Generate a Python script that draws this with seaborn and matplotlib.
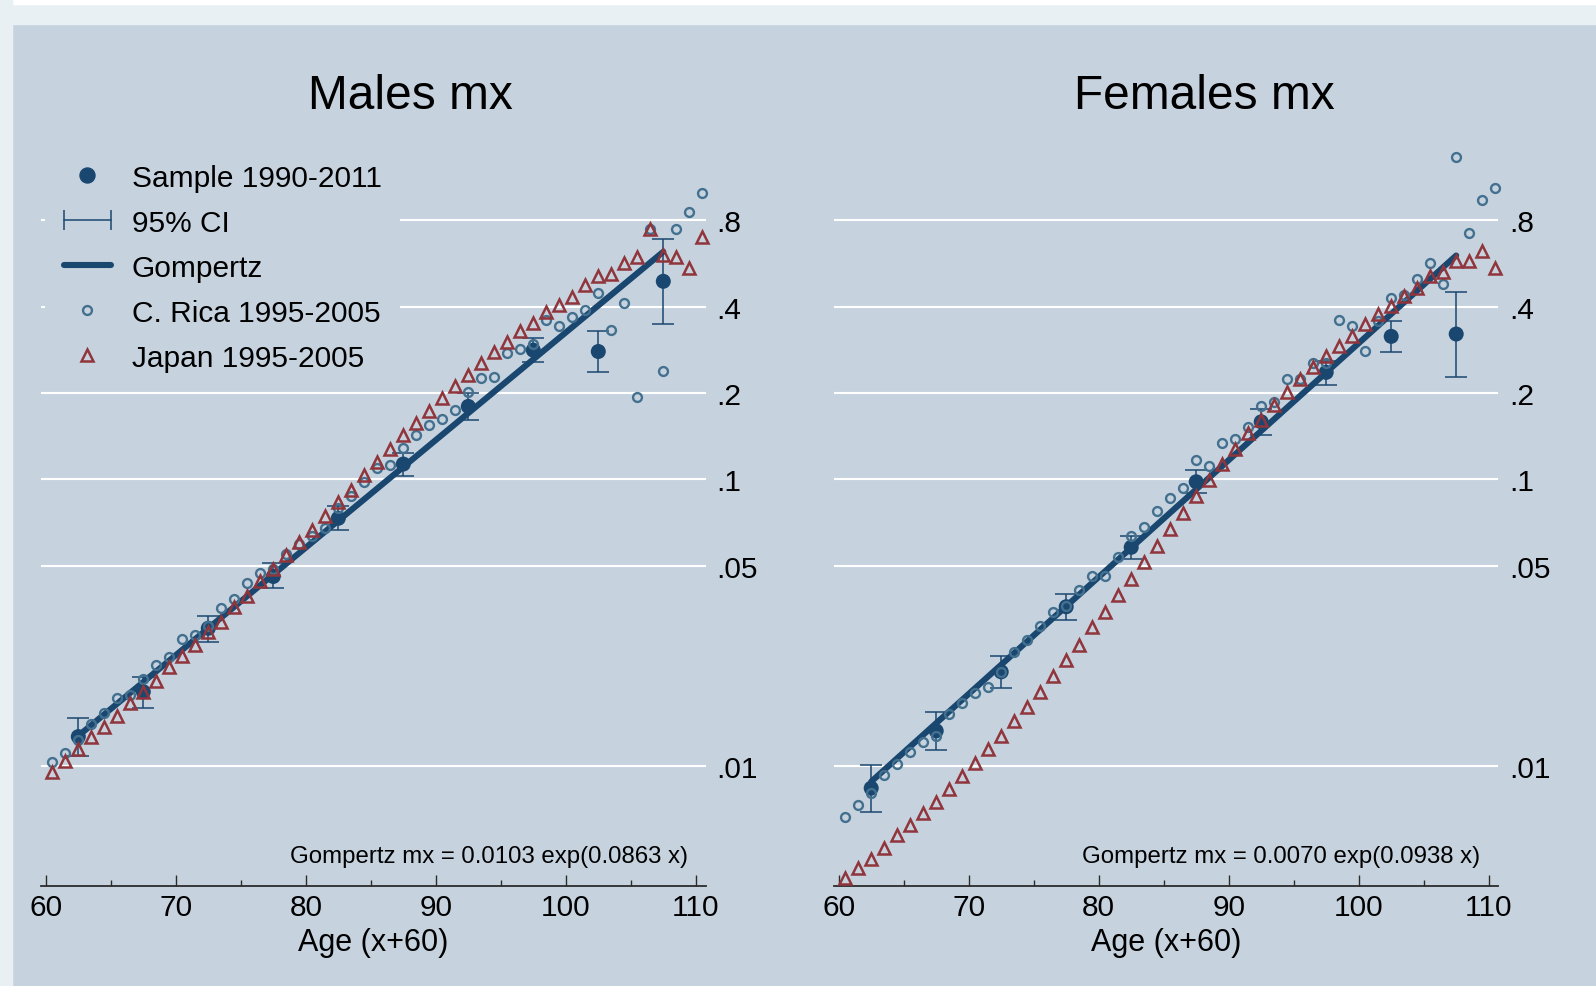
"""
Males / Females mx on log scale (Stata-like style), seaborn + matplotlib
"""
import matplotlib
matplotlib.use("Agg")
import matplotlib.pyplot as plt
import numpy as np
import seaborn as sns
from matplotlib.legend_handler import HandlerLine2D
from matplotlib.lines import Line2D
from matplotlib.patches import Rectangle
from matplotlib.ticker import FixedFormatter, FixedLocator, NullLocator

# ---------- data ----------
ages = np.arange(60.5, 111.0, 1.0)          # single-year ages 60.5 .. 110.5
sample_ages = [62.5, 67.5, 72.5, 77.5, 82.5, 87.5, 92.5, 97.5, 102.5, 107.5]

# Males
cr_males = [0.0104, 0.0111, 0.0124, 0.0141, 0.0154, 0.0173, 0.0178, 0.0201, 0.0225, 0.0241,
            0.0278, 0.0287, 0.0308, 0.0355, 0.0384, 0.0436, 0.0472, 0.0487, 0.0549, 0.0595,
            0.0636, 0.0675, 0.0792, 0.0877, 0.0976, 0.1092, 0.1122, 0.1285, 0.1427, 0.155,
            0.1622, 0.1744, 0.201, 0.2249, 0.2267, 0.2762, 0.2844, 0.297, 0.358, 0.343,
            0.368, 0.388, 0.4446, 0.3322, 0.4115, 0.194, 0.745, 0.239, 0.745, 0.851, 0.994]
jp_males = [0.00953, 0.01046, 0.01149, 0.01262, 0.01374, 0.0150, 0.01662, 0.0182, 0.01987, 0.02213,
            0.02428, 0.02652, 0.0293, 0.0319, 0.0358, 0.0393, 0.0443, 0.0487, 0.0547, 0.0606,
            0.0668, 0.0745, 0.0836, 0.0922, 0.1035, 0.1152, 0.1275, 0.1427, 0.157, 0.1734,
            0.192, 0.2118, 0.2309, 0.254, 0.277, 0.301, 0.328, 0.3505, 0.382, 0.404,
            0.433, 0.4753, 0.5097, 0.519, 0.5656, 0.5935, 0.745, 0.6046, 0.5965, 0.5447, 0.700]
mx_males = [0.0127, 0.0182, 0.0303, 0.0459, 0.0732, 0.1131, 0.1796, 0.282, 0.279, 0.490]
lo_males = [0.0109, 0.0160, 0.0271, 0.0417, 0.0668, 0.1029, 0.1609, 0.257, 0.237, 0.348]
hi_males = [0.0148, 0.0205, 0.0335, 0.0510, 0.0805, 0.1235, 0.1993, 0.312, 0.328, 0.687]
gomp_males = [0.01278, 0.01968, 0.03029, 0.04664, 0.07180, 0.1105, 0.1702, 0.2620, 0.4034, 0.6212]

# Females
cr_females = [0.00667, 0.00735, 0.00805, 0.00935, 0.0102, 0.01124, 0.01212, 0.01272, 0.0152, 0.0166,
              0.0180, 0.01885, 0.02136, 0.02507, 0.02754, 0.0308, 0.0344, 0.0361, 0.0412, 0.0462,
              0.0461, 0.0537, 0.0633, 0.0684, 0.0777, 0.0859, 0.093, 0.1168, 0.1115, 0.1338,
              0.1382, 0.1525, 0.1805, 0.1864, 0.2243, 0.2234, 0.254, 0.255, 0.360, 0.342,
              0.280, 0.356, 0.429, 0.440, 0.501, 0.567, 0.479, 1.324, 0.720, 0.940, 1.035]
jp_females = [0.00407, 0.00441, 0.00475, 0.00519, 0.00576, 0.00626, 0.00686, 0.00753, 0.00834, 0.00923,
              0.01027, 0.01149, 0.01272, 0.01435, 0.01605, 0.0182, 0.0206, 0.02346, 0.02652, 0.0305,
              0.0346, 0.0395, 0.0450, 0.0514, 0.0587, 0.0671, 0.0763, 0.0873, 0.0997, 0.1131,
              0.1275, 0.145, 0.1613, 0.1815, 0.201, 0.2237, 0.2455, 0.270, 0.2906, 0.316,
              0.3477, 0.3767, 0.4027, 0.4364, 0.464, 0.512, 0.529, 0.578, 0.575, 0.626, 0.545]
mx_females = [0.0084, 0.0133, 0.02136, 0.0360, 0.058, 0.0981, 0.1587, 0.236, 0.315, 0.321]
lo_females = [0.00695, 0.01143, 0.01874, 0.0324, 0.0527, 0.0896, 0.1427, 0.2136, 0.277, 0.228]
hi_females = [0.01011, 0.01542, 0.0242, 0.0398, 0.0636, 0.1078, 0.1758, 0.259, 0.357, 0.448]
gomp_females = [0.00885, 0.01415, 0.02261, 0.03614, 0.05776, 0.09233, 0.1476, 0.2359, 0.3770, 0.6027]

yticks = [0.01, 0.05, 0.1, 0.2, 0.4, 0.8]
ytick_labels = [".01", ".05", ".1", ".2", ".4", ".8"]
xticks = [60, 70, 80, 90, 100, 110]
xticks_minor = [65, 75, 85, 95, 105]

legend_labels = ["Sample 1990-2011", "95% CI", "Gompertz", "C. Rica 1995-2005", "Japan 1995-2005"]

# ---------- style ----------
BG = "#c6d3df"
STRIP = "#e8f0f3"
NAVY = "#1a476f"
CR_COL = "#44708f"
JP_COL = "#90353b"
CR_MS, CR_MEW = 6.4, 1.7
JP_MS, JP_MEW = 8.2, 1.8

sns.set_style("white", {"axes.facecolor": BG, "figure.facecolor": BG})
plt.rcParams["font.family"] = ["Liberation Sans", "DejaVu Sans"]
plt.rcParams["text.color"] = "black"
plt.rcParams["axes.labelcolor"] = "black"
plt.rcParams["xtick.color"] = "black"
plt.rcParams["ytick.color"] = "black"

W, H = 1596, 987
fig = plt.figure(figsize=(W / 100, H / 100), dpi=100, facecolor=BG)
fig.patches.append(Rectangle((0, 1 - 25 / H), 1, 25 / H, transform=fig.transFigure, color=STRIP, zorder=0))
fig.patches.append(Rectangle((0, 1 - 5 / H), 1, 5 / H, transform=fig.transFigure, color="white", zorder=0))
fig.patches.append(Rectangle((0, 0), 12 / W, 1, transform=fig.transFigure, color=STRIP, zorder=0))

ax_m = fig.add_axes([41.25 / W, 0.1016, 664.3 / W, 0.7464])
ax_f = fig.add_axes([834.15 / W, 0.1016, 664.3 / W, 0.7464])


def draw_panel(ax, cr, jp, mx, lo, hi, gomp, gtext):
    ax.set_yscale("log")
    ax.set_facecolor(BG)
    sns.scatterplot(x=sample_ages, y=mx, ax=ax, color=NAVY, s=117, edgecolor="none",
                    zorder=3, legend=False)
    yerr = [np.subtract(mx, lo), np.subtract(hi, mx)]
    ax.errorbar(sample_ages, mx, yerr=yerr, fmt="none", ecolor=NAVY, elinewidth=1.1,
                capsize=7.9, capthick=1.1, zorder=3)
    sns.lineplot(x=sample_ages, y=gomp, ax=ax, color=NAVY, linewidth=4.4, estimator=None,
                 zorder=4, legend=False)
    sns.lineplot(x=ages, y=cr, ax=ax, estimator=None, linestyle="none", marker="o",
                 markersize=CR_MS, markerfacecolor="none", markeredgecolor=CR_COL,
                 markeredgewidth=CR_MEW, color=CR_COL, zorder=5, legend=False, clip_on=False)
    sns.lineplot(x=ages, y=jp, ax=ax, estimator=None, linestyle="none", marker="^",
                 markersize=JP_MS, markerfacecolor="none", markeredgecolor=JP_COL,
                 markeredgewidth=JP_MEW, color=JP_COL, zorder=6, legend=False, clip_on=False)

    ax.set_xlim(59.65, 110.75)
    ax.set_ylim(0.00384, 1.416)

    ax.yaxis.set_major_locator(FixedLocator(yticks))
    ax.yaxis.set_major_formatter(FixedFormatter(ytick_labels))
    ax.yaxis.set_minor_locator(NullLocator())
    ax.yaxis.tick_right()
    ax.tick_params(axis="y", which="major", length=0, pad=7.6, labelsize=21.5)

    ax.xaxis.set_major_locator(FixedLocator(xticks))
    ax.xaxis.set_minor_locator(FixedLocator(xticks_minor))
    ax.tick_params(axis="x", which="major", direction="in", length=7.7, width=1.0,
                   color="#2b2b2b", pad=5.5, labelsize=21.5, bottom=True)
    ax.tick_params(axis="x", which="minor", direction="in", length=4.1, width=1.0,
                   color="#2b2b2b", bottom=True)

    for side in ["left", "right", "top"]:
        ax.spines[side].set_visible(False)
    ax.spines["bottom"].set_color("#2b2b2b")
    ax.spines["bottom"].set_linewidth(1.3)

    ax.set_axisbelow(True)
    ax.grid(axis="y", which="major", color="white", linewidth=1.5)
    ax.grid(axis="x", visible=False)

    ax.set_xlabel("Age (x+60)", fontsize=22, labelpad=3.8)
    ax.set_ylabel("")
    ax.text(0.973, 0.0407, gtext, transform=ax.transAxes, ha="right", va="center", fontsize=17.3)


draw_panel(ax_m, cr_males, jp_males, mx_males, lo_males, hi_males, gomp_males,
           "Gompertz mx = 0.0103 exp(0.0863 x)")
draw_panel(ax_f, cr_females, jp_females, mx_females, lo_females, hi_females, gomp_females,
           "Gompertz mx = 0.0070 exp(0.0938 x)")

fig.text(410 / W, 1 - 96.5 / H, "Males mx", ha="center", va="center", fontsize=34.5)
fig.text(1204 / W, 1 - 96.5 / H, "Females mx", ha="center", va="center", fontsize=34.5)

# ---------- legend ----------
h_sample = Line2D([], [], linestyle="none", marker="o", markersize=10.8, color=NAVY)
h_ci = Line2D([], [], color=NAVY, linewidth=1.1, marker="|", markersize=14.4, markeredgewidth=1.1)
h_gomp = Line2D([], [], color=NAVY, linewidth=4.4)
h_cr = Line2D([], [], linestyle="none", marker="o", markersize=CR_MS, markerfacecolor="none",
              markeredgecolor=CR_COL, markeredgewidth=CR_MEW)
h_jp = Line2D([], [], linestyle="none", marker="^", markersize=JP_MS, markerfacecolor="none",
              markeredgecolor=JP_COL, markeredgewidth=JP_MEW)

leg = ax_m.legend(
    handles=[h_sample, h_ci, h_gomp, h_cr, h_jp],
    labels=legend_labels,
    handler_map={h_ci: HandlerLine2D(numpoints=2, marker_pad=0)},
    loc="upper left",
    bbox_to_anchor=(45 / W, 1 - 146 / H),
    bbox_transform=fig.transFigure,
    borderaxespad=0,
    frameon=True,
    fancybox=False,
    facecolor=BG,
    edgecolor=BG,
    framealpha=1,
    fontsize=21.5,
    handlelength=1.6,
    handletextpad=0.69,
    borderpad=0.62,
    labelspacing=0.57,
)
leg.get_frame().set_linewidth(0)

fig.savefig("out.png", dpi=100, facecolor=fig.get_facecolor())
